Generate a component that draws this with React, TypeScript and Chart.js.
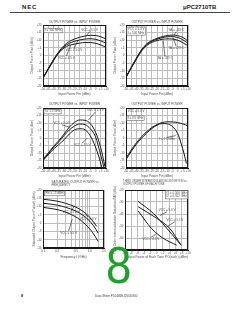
import React, { useEffect, useRef } from "react";
import { Chart, registerables } from "chart.js";

Chart.register(...registerables);

const FONT = "'Liberation Sans', Arial, sans-serif";
const INK = "#1a1a1a";
const TXT = "#4a4a4a";
const GRID = "#bdbdbd";

// ---------- data ----------
const pinSteps = [-50, -45, -40, -35, -30, -25, -20, -15, -10, -5, 0, 5, 10];

// chart 1 : Pout vs Pin, f = 500 MHz, three supply voltages
const c1Vcc55 = [-14.5, -8.5, -2.7, 2.5, 6.5, 9.2, 10.8, 12, 12.8, 13.2, 13.1, 12.3, 10.8];
const c1Vcc50 = [-14.7, -8.8, -3, 2.1, 5.8, 8, 9.3, 10.2, 10.8, 11, 10.6, 9.6, 8];
const c1Vcc45 = [-15, -9.1, -3.4, 1.6, 5, 6.7, 7.5, 8.1, 8.5, 8.5, 8, 6.9, 5.4];

// chart 2 : Pout vs Pin, three ambient temperatures
const c2TaM40 = [-14, -7.8, -1.8, 3.8, 7.6, 9.8, 11.3, 12.4, 13.1, 13.4, 13.0, 11.8, 9.5];
const c2Ta25 = [-14.2, -8, -2.1, 3.4, 7.1, 9.3, 10.7, 11.7, 12.3, 12.4, 11.8, 10.3, 8];
const c2Ta85 = [-14.5, -8.3, -2.5, 2.9, 6.5, 8.6, 9.8, 10.6, 10.9, 10.8, 10, 8.4, 6.4];

// chart 3 : Pout vs Pin, f = 1.5 GHz
const c3Pin55 = [-50, -45, -40, -35, -30, -25, -20, -15, -10, -5, 0, 5, 9];
const c3Vcc55 = [-14, -10, -5.6, -1.8, 2.6, 7.2, 10.4, 12, 11.8, 9.6, 4, -6.5, -19];
const c3Pin50 = [-50, -45, -40, -35, -30, -25, -20, -15, -10, -5, 0, 5, 8];
const c3Vcc50 = [-14.5, -10.5, -6.2, -2.6, 1.6, 5.3, 8, 9.3, 8.9, 6.2, 0.8, -11.5, -19.5];
const c3Pin45 = [-50, -45, -40, -35, -30, -25, -20, -15, -10, -5, 0, 3, 6];
const c3Vcc45 = [-15, -11.2, -7.4, -4.4, -1.2, 2.6, 5.4, 6.2, 5.5, 1.5, -6, -12, -19.5];

// chart 4 : Pout vs Pin, Vcc = 5.0 V, two frequencies
const c4F05 = [-13.6, -8, -3.3, 0.8, 4.2, 7, 9, 10.3, 10.8, 10.7, 10.3, 9.4, 8];
const c4Pin15 = [-50, -45, -40, -35, -30, -25, -20, -15, -10, -5, 0, 3.5, 6, 8.5];
const c4F15 = [-14.4, -9, -4.2, -0.2, 3.3, 6.3, 8.5, 9.6, 9.4, 7.6, 3, -4, -10, -17];

// chart 5 : saturated output power vs frequency (GHz)
const c5F55 = [0.1, 0.2, 0.3, 0.5, 0.7, 0.9, 1.1, 1.4];
const c5Vcc55 = [14.4, 13.3, 12, 9.7, 7.3, 4.8, 2, -2];
const c5F50 = [0.1, 0.2, 0.3, 0.5, 0.7, 0.9, 1.2, 1.5];
const c5Vcc50 = [12, 10.9, 9.6, 7.3, 4.9, 2.4, -1.6, -6];
const c5F45 = [0.1, 0.2, 0.3, 0.5, 0.7, 0.9, 1.1, 1.5];
const c5Vcc45 = [9.5, 8.2, 6.7, 3.8, 0.8, -2.2, -5, -11];
const c5Labels = [0.1, 0.2, 0.5, 1, 2];

// chart 6 : IM3 vs output power of each tone
const c6Po50 = [-5.8, -1, 2, 7.8];
const c6Vcc50 = [-29.5, -39.5, -48, -66];
const c6Po55 = [-5.8, 0, 4.2, 7.8];
const c6Vcc55 = [-34, -43.5, -52, -66];
const c6Po45 = [-5.8, -1.6, 2, 6.4];
const c6Vcc45 = [-37.5, -52, -60, -66];

// ---------- helpers ----------
const signed = (v: number) => (v > 0 ? `+${v}` : `${v}`);

function series(xs: number[], ys: number[]) {
  return {
    data: xs.map((x, i) => ({ x, y: ys[i] })),
    borderColor: INK,
    borderWidth: 1,
    pointRadius: 0,
    tension: 0.4,
    cubicInterpolationMode: "monotone" as const,
    fill: false,
  };
}

type Note = {
  t: string[];
  fx: number;
  fy: number;
  align?: "left" | "center" | "right";
  box?: boolean;
  to?: [number, number];
};
type Head = { text: string; fx: number; dy: number; align: "left" | "center" };

const notesPlugin = {
  id: "notes",
  afterDraw(chart: any, _args: any, opts: any) {
    const { ctx, chartArea: a } = chart;
    ctx.save();
    const l = Math.round(a.left), t = Math.round(a.top);
    const r = Math.round(a.right), b = Math.round(a.bottom);
    ctx.strokeStyle = INK;
    ctx.lineWidth = 1;
    ctx.strokeRect(l + 0.5, t + 0.5, r - l - 1, b - t - 1);

    ctx.fillStyle = TXT;
    ctx.textBaseline = "middle";
    ctx.font = `${opts.headSize || 3}px ${FONT}`;
    for (const h of (opts.heads || []) as Head[]) {
      ctx.textAlign = h.align;
      ctx.fillText(h.text, a.left + h.fx * a.width, a.top + h.dy);
    }
    const size = opts.noteSize || 3;
    ctx.font = `${size}px ${FONT}`;
    const lh = size * 1.2;
    for (const n of (opts.items || []) as Note[]) {
      const x = a.left + n.fx * a.width;
      const y = a.top + n.fy * a.height;
      const align = n.align || "center";
      const w = Math.max(...n.t.map((s) => ctx.measureText(s).width));
      const x0 = align === "left" ? x : align === "right" ? x - w : x - w / 2;
      if (n.box) {
        ctx.fillStyle = "#fff";
        ctx.fillRect(x0 - 1, y - lh / 2 - 0.5, w + 2, lh * n.t.length + 1);
        ctx.strokeStyle = "#666";
        ctx.lineWidth = 0.6;
        ctx.strokeRect(x0 - 1, y - lh / 2 - 0.5, w + 2, lh * n.t.length + 1);
      }
      ctx.fillStyle = TXT;
      ctx.textAlign = "left";
      n.t.forEach((s, i) => ctx.fillText(s, x0, y + i * lh));
      if (n.to) {
        const tx = a.left + n.to[0] * a.width;
        const ty = a.top + n.to[1] * a.height;
        const sy = ty < y ? y - lh / 2 : y + lh / 2;
        ctx.strokeStyle = INK;
        ctx.lineWidth = 0.6;
        ctx.beginPath();
        ctx.moveTo(x, sy);
        ctx.lineTo(tx, ty);
        ctx.stroke();
      }
    }
    ctx.restore();
  },
};

type Box = { l: number; t: number; w: number; h: number };
type Plot = { l: number; t: number; r: number; b: number };

function axis(extra: any, fit: (s: any) => void, titleText: string, titlePad: any) {
  return {
    ...extra,
    border: { display: true, color: INK, width: 1 },
    grid: { color: GRID, lineWidth: 1, drawTicks: false },
    title: {
      display: true,
      text: titleText,
      color: TXT,
      font: { size: 3.2, family: FONT, lineHeight: 1.2 },
      padding: titlePad,
    },
    ticks: {
      color: TXT,
      font: { size: 3, family: FONT },
      padding: 1.5,
      autoSkip: false,
      maxRotation: 0,
      minRotation: 0,
      ...(extra.ticks || {}),
    },
    afterFit: fit,
  };
}

function buildConfig(
  box: Box,
  plot: Plot,
  datasets: any[],
  x: any,
  y: any,
  xTitle: string,
  yTitle: string,
  yTitlePad: number,
  heads: Head[],
  items: Note[],
  headSize = 3
) {
  const yW = plot.l - box.l;
  const xH = box.t + box.h - plot.b;
  const fitY = (s: any) => {
    s.width = yW;
    s.paddingTop = 0;
    s.paddingBottom = 0;
    s.paddingLeft = 0;
    s.paddingRight = 0;
  };
  const fitX = (s: any) => {
    s.height = xH;
    s.paddingTop = 0;
    s.paddingBottom = 0;
    s.paddingLeft = 0;
    s.paddingRight = 0;
  };
  return {
    type: "line" as const,
    data: { datasets },
    plugins: [notesPlugin],
    options: {
      responsive: false,
      animation: false,
      devicePixelRatio: 1,
      events: [],
      layout: {
        padding: { top: plot.t - box.t, right: box.l + box.w - plot.r, left: 0, bottom: 0 },
      },
      scales: {
        x: axis(x, fitX, xTitle, { top: 0, bottom: 1 }),
        y: axis(y, fitY, yTitle, { top: yTitlePad, bottom: 0 }),
      },
      plugins: {
        legend: { display: false },
        title: { display: false },
        tooltip: { enabled: false },
        notes: { heads, items, headSize, noteSize: 3 },
      },
    },
  };
}

function Panel({ box, make }: { box: Box; make: () => any }) {
  const ref = useRef<HTMLCanvasElement>(null);
  useEffect(() => {
    const chart = new Chart(ref.current as HTMLCanvasElement, make());
    return () => chart.destroy();
  }, []);
  return (
    <canvas
      ref={ref}
      width={box.w}
      height={box.h}
      style={{ position: "absolute", left: box.l, top: box.t, width: box.w, height: box.h }}
    />
  );
}

const pinAxis = {
  type: "linear",
  min: -50,
  max: 10,
  ticks: { stepSize: 5, callback: (v: number) => signed(v) },
};
const poutAxis = {
  type: "linear",
  min: -20,
  max: 20,
  ticks: { stepSize: 5, callback: (v: number) => signed(v) },
};
const OPOP = "OUTPUT POWER vs. INPUT POWER";
const X_PIN = "Input Power Pin (dBm)";
const Y_POUT = "Output Power Pout (dBm)";

const B1 = { l: 25, t: 17, w: 87, h: 80 }, P1 = { l: 43, t: 25, r: 106, b: 86 };
const B2 = { l: 108, t: 17, w: 86, h: 80 }, P2 = { l: 126, t: 25, r: 188, b: 86 };
const B3 = { l: 25, t: 100, w: 87, h: 79 }, P3 = { l: 43, t: 108, r: 106, b: 168 };
const B4 = { l: 108, t: 100, w: 86, h: 79 }, P4 = { l: 126, t: 108, r: 188, b: 168 };
const B5 = { l: 25, t: 178, w: 85, h: 82 }, P5 = { l: 43, t: 190, r: 104, b: 248 };
const B6 = { l: 108, t: 178, w: 92, h: 82 }, P6 = { l: 125, t: 190, r: 188, b: 250 };

const make1 = () =>
  buildConfig(
    B1, P1,
    [series(pinSteps, c1Vcc55), series(pinSteps, c1Vcc50), series(pinSteps, c1Vcc45)],
    pinAxis, poutAxis, X_PIN, Y_POUT, 5,
    [{ text: OPOP, fx: 0.5, dy: -3, align: "center" }],
    [
      { t: ["f = 500 MHz"], fx: 0.03, fy: 0.09, align: "left", box: true },
      { t: ["VCC = 5.5 V"], fx: 0.74, fy: 0.08, to: [0.68, 0.19] },
      { t: ["VCC = 5.0 V"], fx: 0.49, fy: 0.42, to: [0.55, 0.26] },
      { t: ["VCC = 4.5 V"], fx: 0.37, fy: 0.54, to: [0.44, 0.33] },
    ]
  );

const make2 = () =>
  buildConfig(
    B2, P2,
    [series(pinSteps, c2TaM40), series(pinSteps, c2Ta25), series(pinSteps, c2Ta85)],
    pinAxis, poutAxis, X_PIN, Y_POUT, 5,
    [{ text: OPOP, fx: 0.5, dy: -3, align: "center" }],
    [
      { t: ["VCC = 5.0 V", "f = 500 MHz"], fx: 0.03, fy: 0.07, align: "left", box: true },
      { t: ["TA = –40°C"], fx: 0.81, fy: 0.08, to: [0.78, 0.16] },
      { t: ["TA = +25°C"], fx: 0.81, fy: 0.38, to: [0.76, 0.21] },
      { t: ["TA = +85°C"], fx: 0.63, fy: 0.55, to: [0.6, 0.26] },
    ]
  );

const make3 = () =>
  buildConfig(
    B3, P3,
    [series(c3Pin55, c3Vcc55), series(c3Pin50, c3Vcc50), series(c3Pin45, c3Vcc45)],
    pinAxis, poutAxis, X_PIN, Y_POUT, 5,
    [{ text: OPOP, fx: 0.5, dy: -4, align: "center" }],
    [
      { t: ["f = 1.5 GHz"], fx: 0.03, fy: 0.06, align: "left", box: true },
      { t: ["VCC = 5.5 V"], fx: 0.83, fy: 0.04, to: [0.72, 0.2] },
      { t: ["VCC = 5.0 V"], fx: 0.3, fy: 0.25, to: [0.42, 0.32] },
      { t: ["VCC = 4.5 V"], fx: 0.62, fy: 0.62, to: [0.7, 0.5] },
    ]
  );

const make4 = () =>
  buildConfig(
    B4, P4,
    [series(pinSteps, c4F05), series(c4Pin15, c4F15)],
    pinAxis, poutAxis, X_PIN, Y_POUT, 5,
    [{ text: OPOP, fx: 0.5, dy: -4, align: "center" }],
    [
      { t: ["VCC = 5.0 V"], fx: 0.03, fy: 0.06, align: "left" },
      { t: ["f = 0.5 GHz"], fx: 0.03, fy: 0.17, align: "left", box: true },
      { t: ["f = 1.5 GHz"], fx: 0.66, fy: 0.52, to: [0.8, 0.46] },
    ]
  );

const make5 = () =>
  buildConfig(
    B5, P5,
    [series(c5F55, c5Vcc55), series(c5F50, c5Vcc50), series(c5F45, c5Vcc45)],
    {
      type: "logarithmic",
      min: 0.1,
      max: 2,
      ticks: {
        callback: (v: number) => {
          const m = c5Labels.find((t) => Math.abs(t - v) < 1e-6);
          return m === undefined ? "" : m.toFixed(1);
        },
      },
    },
    {
      type: "linear",
      min: -15,
      max: 20,
      ticks: { stepSize: 5, callback: (v: number) => signed(v) },
    },
    "Frequency f (GHz)",
    "Saturated Output Power Po(sat) (dBm)",
    7,
    [
      { text: "SATURATED OUTPUT POWER vs.", fx: 0.14, dy: -8, align: "left" },
      { text: "FREQUENCY", fx: 0.14, dy: -4.5, align: "left" },
    ],
    [
      { t: ["Pin = –5 dBm"], fx: 0.04, fy: 0.06, align: "left", box: true },
      { t: ["VCC = 5.5 V"], fx: 0.46, fy: 0.39, to: [0.52, 0.27] },
      { t: ["VCC = 5.0 V"], fx: 0.74, fy: 0.5, to: [0.7, 0.42] },
      { t: ["VCC = 4.5 V"], fx: 0.42, fy: 0.74, to: [0.48, 0.5] },
    ]
  );

const make6 = () =>
  buildConfig(
    B6, P6,
    [series(c6Po50, c6Vcc50), series(c6Po55, c6Vcc55), series(c6Po45, c6Vcc45)],
    {
      type: "linear",
      min: -10,
      max: 10,
      ticks: { stepSize: 2, callback: (v: number) => signed(v) },
    },
    {
      type: "linear",
      min: -70,
      max: -20,
      ticks: { stepSize: 10, callback: (v: number) => signed(v) },
    },
    "Output Power of Each Tone PO(each) (dBm)",
    "Third Order Intermodulation Distortion IM3 (dBc)",
    5,
    [
      { text: "THIRD ORDER INTERMODULATION DISTORTION vs.", fx: -0.03, dy: -8.5, align: "left" },
      { text: "OUTPUT POWER OF EACH TONE", fx: -0.03, dy: -5.3, align: "left" },
    ],
    [
      { t: ["f1 = 0.500 GHz", "f2 = 0.502 GHz"], fx: 0.98, fy: 0.05, align: "right", box: true },
      { t: ["VCC = 5.0 V"], fx: 0.67, fy: 0.33, to: [0.55, 0.43] },
      { t: ["VCC = 5.5 V"], fx: 0.79, fy: 0.5, to: [0.68, 0.6] },
      { t: ["VCC = 4.5 V"], fx: 0.41, fy: 0.82, to: [0.49, 0.74] },
    ],
    2.6
  );

export default function App() {
  const abs = (s: React.CSSProperties): React.CSSProperties => ({ position: "absolute", ...s });
  return (
    <div
      style={{
        position: "absolute",
        left: 0,
        top: 0,
        width: 240,
        height: 310,
        overflow: "hidden",
        background: "#fff",
        fontFamily: FONT,
        color: "#222",
      }}
    >
      <div style={abs({ left: 22, top: 4, fontSize: 6, lineHeight: "6px", fontWeight: 700, letterSpacing: 0.8 })}>
        NEC
      </div>
      <div style={abs({ left: 183, top: 4, fontSize: 6, lineHeight: "6px", fontWeight: 700, color: "#222" })}>
        μPC2710TB
      </div>
      <div style={abs({ left: 10, top: 12, width: 220, height: 1, background: "#444" })} />

      <Panel box={B1} make={make1} />
      <Panel box={B2} make={make2} />
      <Panel box={B3} make={make3} />
      <Panel box={B4} make={make4} />
      <Panel box={B5} make={make5} />
      <Panel box={B6} make={make6} />

      <div
        style={abs({
          left: 106,
          top: 239,
          fontSize: 52,
          lineHeight: "52px",
          color: "#1fa02a",
          fontFamily: FONT,
          transform: "scaleX(0.88)",
          transformOrigin: "left top",
        })}
      >
        8
      </div>

      <div style={abs({ left: 21, top: 294, fontSize: 4, lineHeight: "4px", fontWeight: 700 })}>8</div>
      <div style={abs({ left: 95, top: 295, fontSize: 3, lineHeight: "3px", color: "#444" })}>
        Data Sheet P10436EJ2V0DS00
      </div>
    </div>
  );
}
